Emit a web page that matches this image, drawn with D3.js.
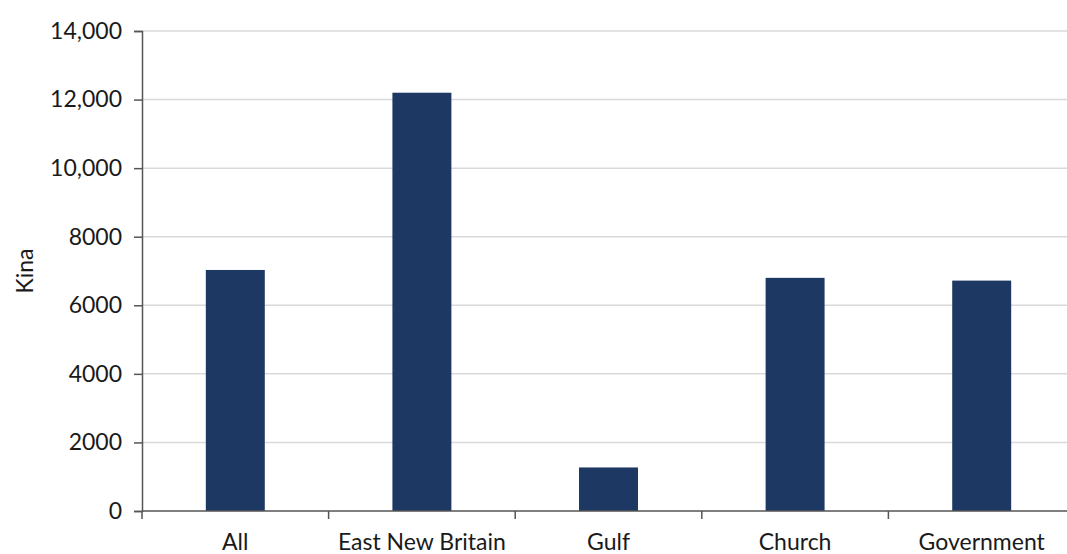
<!DOCTYPE html>
<html><head><meta charset="utf-8">
<script src="https://cdn.jsdelivr.net/npm/d3@7"></script>
<style>
html,body{margin:0;padding:0;background:#fff;}
svg text{font-family:Lato,"Noto Sans",sans-serif;fill:#1a1a1a;}
</style></head>
<body><svg id="c" width="1067" height="554"></svg>
<script>
const categories = ["All","East New Britain","Gulf","Church","Government"];
const values = [7030, 12200, 1270, 6800, 6720];
const yTicks = [0,2000,4000,6000,8000,10000,12000,14000];
const yTickLabels = ["0","2000","4000","6000","8000","10,000","12,000","14,000"];
const yLabel = "Kina";

const svg = d3.select("#c");
const pLeft = 142, pRight = 1075, pTop = 31, pBottom = 511;
const FS = 23;
const x = d3.scaleBand().domain(categories).range([pLeft,pRight]).padding(0);
const y = d3.scaleLinear().domain([0,14000]).range([pBottom,pTop]);
const barW = x.bandwidth()*0.316;

// gridlines
svg.append("g").selectAll("line").data(yTicks.filter(d=>d>0)).join("line")
  .attr("x1",pLeft).attr("x2",1067).attr("y1",d=>y(d)).attr("y2",d=>y(d))
  .attr("stroke","#d9d9d9").attr("stroke-width",1.5);

// bars
svg.append("g").selectAll("rect").data(values).join("rect")
  .attr("x",(d,i)=>x(categories[i])+x.bandwidth()/2-barW/2)
  .attr("width",barW)
  .attr("y",d=>y(d)).attr("height",d=>pBottom-y(d))
  .attr("fill","#1d3862");

// y axis
const yAxis = d3.axisLeft(y).tickValues(yTicks).tickFormat((d,i)=>yTickLabels[i]).tickSize(8).tickPadding(12);
const gy = svg.append("g").attr("transform",`translate(${pLeft},0)`).call(yAxis);
gy.select(".domain").attr("stroke","#555").attr("stroke-width",1.5);
gy.selectAll(".tick line").attr("stroke","#555").attr("stroke-width",1.5);
gy.selectAll(".tick text").attr("font-size",FS).style("font-family","Lato, 'Noto Sans', sans-serif").attr("fill","#1a1a1a");

// x axis
const xTickPos = d3.range(categories.length).map(i=>pLeft+i*x.step());
const gx = svg.append("g");
gx.append("line").attr("x1",pLeft).attr("x2",1067).attr("y1",pBottom).attr("y2",pBottom)
  .attr("stroke","#555").attr("stroke-width",1.5);
gx.selectAll("line.t").data(xTickPos).join("line").attr("class","t")
  .attr("x1",d=>d).attr("x2",d=>d).attr("y1",pBottom).attr("y2",pBottom+8)
  .attr("stroke","#555").attr("stroke-width",1.5);
gx.selectAll("text").data(categories).join("text")
  .attr("x",d=>x(d)+x.bandwidth()/2).attr("y",550)
  .attr("text-anchor","middle").attr("font-size",FS).text(d=>d);

// y label
svg.append("text").attr("transform",`translate(33,${(pTop+pBottom)/2}) rotate(-90)`)
  .attr("text-anchor","middle").attr("font-size",FS).text(yLabel);
</script></body></html>
